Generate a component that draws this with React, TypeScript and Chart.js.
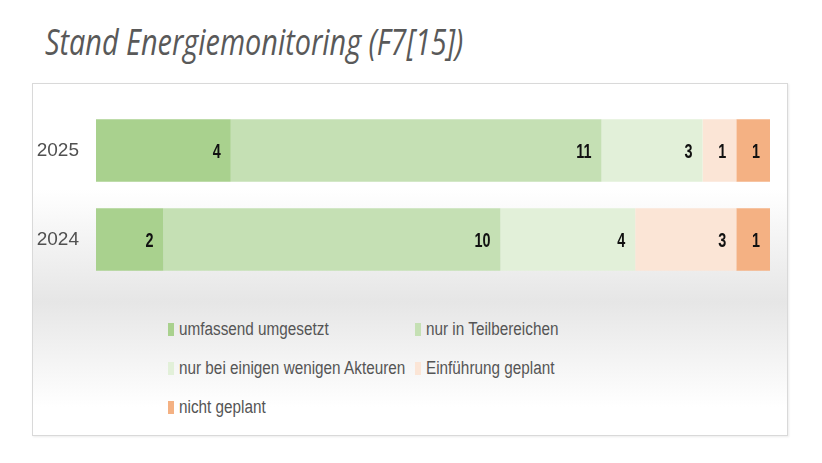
import { useEffect, useLayoutEffect, useRef } from 'react'
import { Chart, registerables } from 'chart.js'

Chart.register(...registerables)

const years = ['2025', '2024']
const umfassend = [4, 2]
const teilbereiche = [11, 10]
const wenigeAkteure = [3, 4]
const geplant = [1, 3]
const nichtGeplant = [1, 1]

const seriesNames = [
  'umfassend umgesetzt',
  'nur in Teilbereichen',
  'nur bei einigen wenigen Akteuren',
  'Einführung geplant',
  'nicht geplant',
]
const seriesColors = ['#a9d18e', '#c5e0b4', '#e2f0d9', '#fbe5d6', '#f4b183']

const FONT = "'Liberation Sans', sans-serif"

// value at the inner end of each segment, squeezed like the narrow original font
const valueLabels = {
  id: 'valueLabels',
  afterDatasetsDraw(chart: Chart) {
    const ctx = chart.ctx
    ctx.save()
    ctx.font = `bold 20px ${FONT}`
    ctx.fillStyle = '#111'
    ctx.textAlign = 'right'
    ctx.textBaseline = 'middle'
    chart.data.datasets.forEach((ds, i) => {
      const meta = chart.getDatasetMeta(i)
      meta.data.forEach((bar: any, j) => {
        ctx.save()
        ctx.translate(bar.x - 10, bar.y + 2)
        ctx.scale(0.72, 1)
        ctx.fillText(String(ds.data[j]), 0, 0)
        ctx.restore()
      })
    })
    ctx.restore()
  },
}

export default function App() {
  const canvasRef = useRef<HTMLCanvasElement>(null)
  const titleRef = useRef<HTMLDivElement>(null)

  useLayoutEffect(() => {
    const el = titleRef.current
    if (!el) return
    el.style.transform = `scaleX(${418 / el.scrollWidth})`
  }, [])

  useEffect(() => {
    if (!canvasRef.current) return
    const existing = Chart.getChart(canvasRef.current)
    if (existing) existing.destroy()

    const values = [umfassend, teilbereiche, wenigeAkteure, geplant, nichtGeplant]
    const chart = new Chart(canvasRef.current, {
      type: 'bar',
      data: {
        labels: years,
        datasets: values.map((v, i) => ({
          label: seriesNames[i],
          data: v,
          backgroundColor: seriesColors[i],
          borderWidth: 0,
          barPercentage: 0.7,
          categoryPercentage: 1,
        })),
      },
      options: {
        indexAxis: 'y',
        animation: false,
        responsive: false,
        maintainAspectRatio: false,
        layout: { padding: { top: 23, bottom: 9, right: 18, left: 0 } },
        plugins: { legend: { display: false }, tooltip: { enabled: false } },
        scales: {
          x: { stacked: true, min: 0, max: 20, display: false },
          y: {
            stacked: true,
            grid: { display: false, drawTicks: false },
            border: { display: false },
            ticks: { padding: 17, color: '#505050', font: { family: FONT, size: 19 } },
            afterFit(scale: any) {
              scale.width = 64
              scale.paddingTop = 0
              scale.paddingBottom = 0
            },
          },
        },
      },
      plugins: [valueLabels],
    })

    return () => { chart.destroy() }
  }, [])

  return (
    <div style={{ position: 'absolute', left: 0, top: 0, width: 822, height: 463, background: '#fff', overflow: 'hidden', fontFamily: FONT }}>
      <div
        ref={titleRef}
        style={{ position: 'absolute', left: 45, top: 20, fontSize: 36, lineHeight: '44px', fontStyle: 'italic', color: '#595959', whiteSpace: 'nowrap', transformOrigin: 'left top', fontFamily: "'Open Sans', sans-serif" }}
      >
        Stand Energiemonitoring (F7[15])
      </div>

      <div style={{
        position: 'absolute', left: 32, top: 83, width: 756, height: 353, boxSizing: 'border-box',
        border: '1px solid #d9d9d9',
        boxShadow: '1px 1px 2px rgba(0,0,0,0.08)',
        background: 'linear-gradient(to bottom, #ffffff 0%, #ffffff 30%, #e6e6e6 62%, #ffffff 92%)',
      }}>
        <canvas ref={canvasRef} width={756} height={210} style={{ position: 'absolute', left: -1, top: -1, width: 756, height: 210 }} />
        <div style={{ position: 'absolute', left: 135, top: 226, display: 'grid', gridTemplateColumns: '247px auto', gridAutoRows: '39px', color: '#555', fontSize: 18 }}>
          {seriesNames.map((n, i) => (
            <div key={n} style={{ display: 'flex', alignItems: 'center', whiteSpace: 'nowrap' }}>
              <span style={{ display: 'inline-block', width: 6, height: 13, background: seriesColors[i], marginRight: 5, flex: 'none' }} />
              <span style={{ display: 'inline-block', transform: 'scaleX(0.85)', transformOrigin: 'left center' }}>{n}</span>
            </div>
          ))}
        </div>
      </div>
    </div>
  )
}
